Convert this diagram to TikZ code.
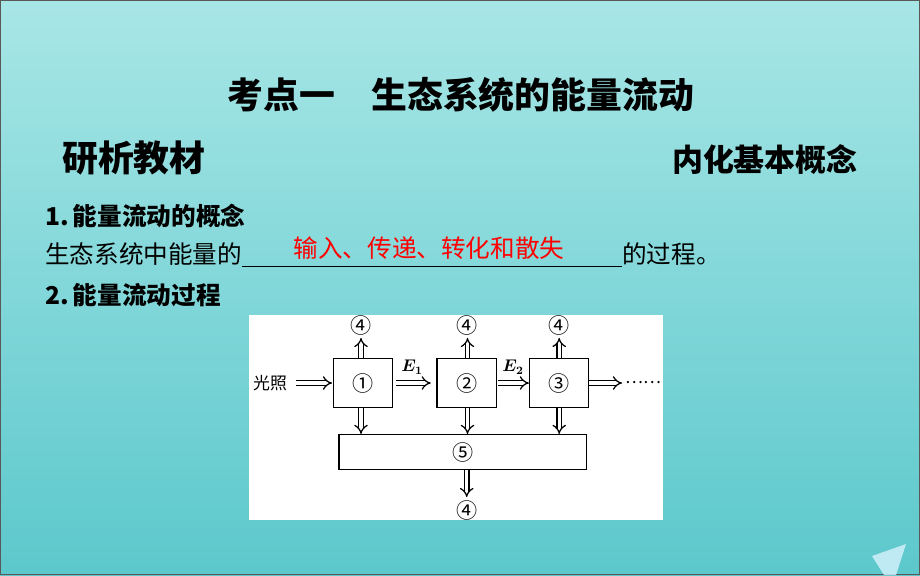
\documentclass[tikz,border=0pt]{standalone}
\usepackage{fontspec}
\setmainfont{Noto Sans CJK SC}
\usepackage{bm}
\usetikzlibrary{positioning}
\usetikzlibrary{arrows.meta}
\usetikzlibrary{calc}

\begin{document}
\begin{tikzpicture}[
    x=0.025cm, y=-0.025cm,
    %% ── Node styles ─────────────────────────────────────────────
    title/.style ={inner sep=0pt, font=\fontsize{25.5}{30}\selectfont\bfseries},
    head/.style  ={inner sep=0pt, anchor=west, font=\fontsize{25.5}{30}\selectfont\bfseries},
    headr/.style ={inner sep=0pt, anchor=east, font=\fontsize{22}{26}\selectfont\bfseries},
    sub/.style   ={inner sep=0pt, anchor=base west, font=\fontsize{17.5}{21}\selectfont\bfseries},
    body/.style  ={inner sep=0pt, anchor=base west, font=\fontsize{17.5}{21}\selectfont},
    ans/.style   ={inner sep=0pt, text=red, font=\fontsize{17.5}{21}\selectfont},
    box/.style   ={draw=black, line width=0.8pt, fill=white,
                                 minimum width=1.485cm, minimum height=1.21cm,
                                 inner sep=0pt, font=\fontsize{15}{17}\selectfont},
    bigbox/.style={draw=black, line width=0.8pt, fill=white,
                                 minimum width=6.19cm, minimum height=0.875cm,
                                 inner sep=0pt, font=\fontsize{15}{17}\selectfont},
    lossn/.style ={inner sep=0pt, font=\fontsize{15}{17}\selectfont},
    lbl/.style   ={inner sep=0pt, font=\fontsize{12}{14}\selectfont},
    harr/.style  ={-{Implies}, double, double distance=2.4pt, line width=0.9pt, draw=black}
]

    %% ── Background ─────────────────────────────────────────────
    \useasboundingbox (0,0) rectangle (920,575);
    \shade[top color={rgb,255:red,168;green,230;blue,230},
           bottom color={rgb,255:red,92;green,200;blue,204}]
        (0,0) rectangle (920,575);
    \draw[black!65, line width=0.8pt] (0.5,0.5) rectangle (919.5,574.5);
    \fill[cyan!15!white, opacity=0.8] (872,556) -- (906,544) -- (896,575) -- (884,575) -- cycle;

    %% ── Slide text ─────────────────────────────────────────────
    \node[title] (ttl)  at (461,95)  {考点一\hspace{1em}生态系统的能量流动};
    \node[head]  (left) at (62,158)  {研析教材};
    \node[headr] (rght) at (858,160) {内化基本概念};
    \node[sub]   (s1)   at (45,225)  {1.\,能量流动的概念};
    \node[body]  (pre)  at (45,263)  {生态系统中能量的};
    \node[body]  (post) at (622,263) {的过程。};
    \node[ans]   (fill) at (429,248) {输入、传递、转化和散失};
    \node[sub]   (s2)   at (45,304)  {2.\,能量流动过程};
    \draw[black, line width=0.7pt] ([yshift=-2.5pt]pre.base east) -- ([yshift=-2.5pt]post.base west);

    %% ── Diagram panel ──────────────────────────────────────────
    \fill[white] (249,315) rectangle (663,520);

    \node[box]    (b1)  at (363,383)   {①};
    \node[box]    (b2)  at (466.7,383) {②};
    \node[box]    (b3)  at (559.2,383) {③};
    \node[bigbox] (b5)  at (462.8,452) {⑤};

    \node[lossn] (t1) at (361,325)   {④};
    \node[lossn] (t2) at (467.5,325) {④};
    \node[lossn] (t3) at (559.2,325) {④};
    \node[lossn] (t5) at (466.7,510) {④};

    \node[lbl] (sun)  at (270,383) {光照};
    \node[lbl] (dots) at (643,383) {……};
    \node[lbl] (e1)   at (412,367) {$\bm{E_1}$};
    \node[lbl] (e2)   at (513,367) {$\bm{E_2}$};

    %% ── Arrows ──────────────────────────────────────────────────
    \draw[harr, shorten <=6pt, shorten >=0.5pt] (sun.east) -- (b1.west);
    \draw[harr, shorten <=2pt, shorten >=4pt]   (b1.east)  -- (b2.west);
    \draw[harr, shorten <=0.5pt]                (b2.east)  -- (b3.west);
    \draw[harr, shorten >=2pt]                  (b3.east)  -- (dots.west);

    \draw[harr, shorten >=2pt] (b1.north -| t1) -- (t1.south);
    \draw[harr, shorten >=2pt] (b2.north -| t2) -- (t2.south);
    \draw[harr, shorten >=2pt] (b3.north) -- (t3.south);

    \draw[harr] (b1.south -| t1) -- (t1 |- b5.north);
    \draw[harr] (b2.south -| t2) -- (t2 |- b5.north);
    \draw[harr] (b3.south) -- (b3.south |- b5.north);
    \draw[harr, shorten >=2pt] (b5.south -| t5) -- (t5.north);

\end{tikzpicture}
\end{document}
